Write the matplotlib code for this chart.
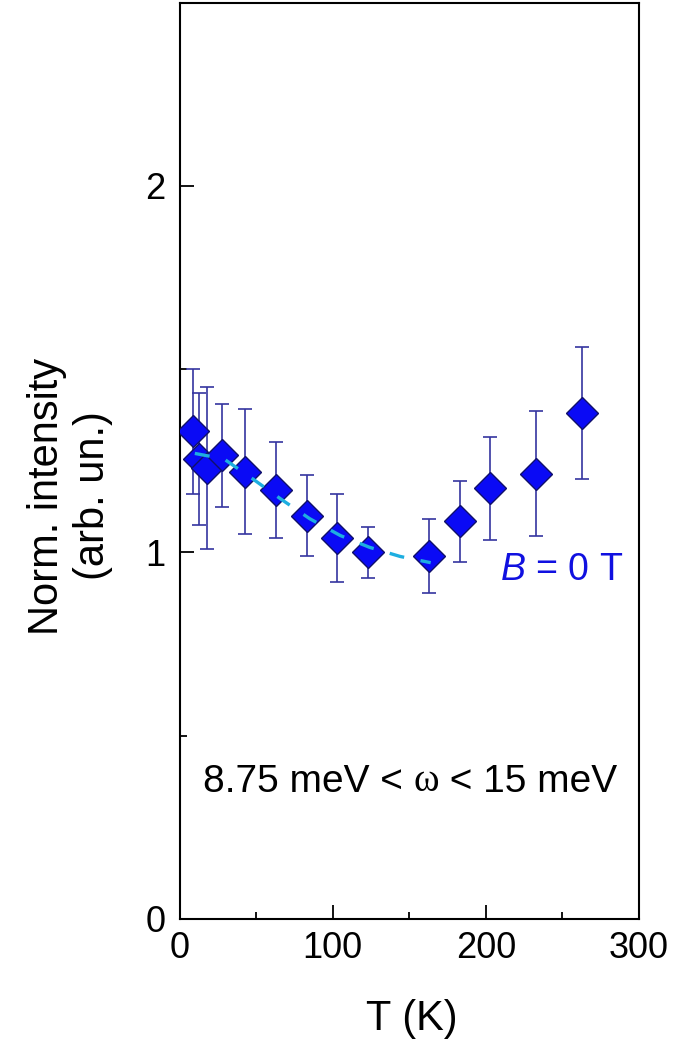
import numpy as np
import matplotlib
matplotlib.use("Agg")
import matplotlib.pyplot as plt
from matplotlib.ticker import MultipleLocator

plt.rcParams["font.family"] = ["Liberation Sans", "DejaVu Sans"]
plt.rcParams["mathtext.fontset"] = "custom"
plt.rcParams["mathtext.rm"] = "Liberation Sans"
plt.rcParams["mathtext.it"] = "Liberation Sans:italic"

# data
T = [9, 13, 18, 28, 43, 63, 83, 103, 123, 163, 183, 203, 233, 263]
intensity = [1.33, 1.255, 1.23, 1.265, 1.22, 1.17, 1.10, 1.04, 1.00, 0.99, 1.085, 1.175, 1.215, 1.38]
err = [0.17, 0.18, 0.22, 0.14, 0.17, 0.13, 0.11, 0.12, 0.07, 0.10, 0.11, 0.14, 0.17, 0.18]

# dashed guide line
T_fit = [10, 29, 48, 66, 85, 105, 124, 144, 164]
fit = [1.27, 1.255, 1.20, 1.146, 1.092, 1.046, 1.014, 0.989, 0.972]

fig = plt.figure(figsize=(6.92, 10.42), dpi=100)
ax = fig.add_axes([179.5 / 692, 1 - 919 / 1042, (639 - 179.5) / 692, (919 - 2.5) / 1042])

ax.errorbar(T, intensity, yerr=err, fmt="none", ecolor="#3535a0", elinewidth=1.2,
            capsize=5, capthick=1.2, zorder=2)
ax.plot(T, intensity, "D", ms=16.8, mfc="#0a0af5", mec="#10106a", mew=1.0, zorder=3)
ax.plot(T_fit, fit, color="#1eaee0", lw=2.4, dashes=(4.5, 5), zorder=4)

ax.set_xlim(0, 300)
ax.set_ylim(0, 2.5)
ax.xaxis.set_major_locator(MultipleLocator(100))
ax.xaxis.set_minor_locator(MultipleLocator(50))
ax.yaxis.set_major_locator(MultipleLocator(1))
ax.yaxis.set_minor_locator(MultipleLocator(0.5))
ax.tick_params(which="both", direction="in", width=1.3, labelsize=26, top=False, right=False)
ax.tick_params(which="major", length=10)
ax.tick_params(which="minor", length=5)
ax.tick_params(axis="x", pad=9)
ax.tick_params(axis="y", pad=10)
for s in ax.spines.values():
    s.set_linewidth(1.5)

fig.text(70 / 692, 1 - 496 / 1042, "Norm. intensity\n(arb. un.)", rotation=90,
         ha="center", va="center", multialignment="center", fontsize=30, linespacing=1.22)
fig.text(412 / 692, 1 - 1030 / 1042, "T (K)", ha="center", va="baseline", fontsize=30)

ax.text(209, 0.924, "$B$ = 0 T", color="#1010e0", fontsize=27, va="baseline")

t1 = ax.text(15.5, 0.347, "8.75 meV < ", fontsize=28, va="baseline")
t2 = ax.annotate("\u03c9", xy=(1, 0), xycoords=t1, fontsize=28, va="bottom",
                 family="Liberation Serif")
ax.annotate(" < 15 meV", xy=(1, 0), xycoords=t2, fontsize=28, va="bottom")

fig.savefig("out.png", dpi=100)
